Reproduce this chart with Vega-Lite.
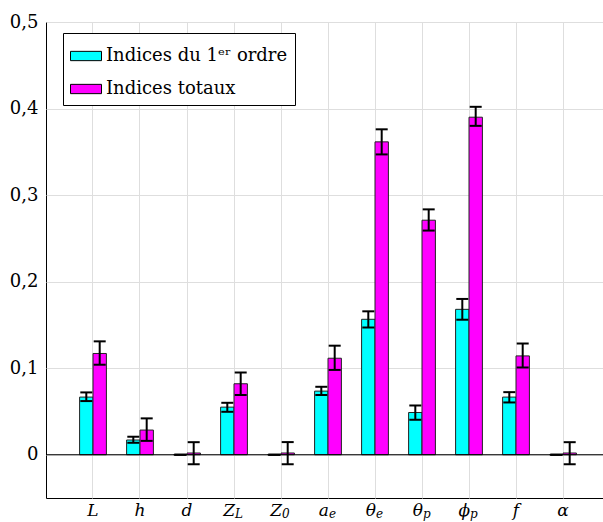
{
  "$schema": "https://vega.github.io/schema/vega-lite/v6.json",
  "autosize": "none",
  "width": 564,
  "height": 476,
  "padding": {"left": 46, "top": 22, "right": 0, "bottom": 24},
  "background": "white",
  "config": {
    "view": {"stroke": "black", "strokeWidth": 1},
    "font": "DejaVu Serif",
    "tick": {"thickness": 2, "bandSize": 12}
  },
  "datasets": {
    "bars": [
      {"p": "L", "type": "Indices du 1ᵉʳ ordre", "value": 0.0666, "lo": 0.062, "hi": 0.072},
      {"p": "L", "type": "Indices totaux", "value": 0.117, "lo": 0.104, "hi": 0.131},
      {"p": "h", "type": "Indices du 1ᵉʳ ordre", "value": 0.017, "lo": 0.0138, "hi": 0.0208},
      {"p": "h", "type": "Indices totaux", "value": 0.0285, "lo": 0.016, "hi": 0.042},
      {"p": "d", "type": "Indices du 1ᵉʳ ordre", "value": 0, "lo": 0, "hi": 0},
      {"p": "d", "type": "Indices totaux", "value": 0.002, "lo": -0.011, "hi": 0.0145},
      {"p": "Z_L", "type": "Indices du 1ᵉʳ ordre", "value": 0.055, "lo": 0.0496, "hi": 0.06},
      {"p": "Z_L", "type": "Indices totaux", "value": 0.082, "lo": 0.069, "hi": 0.095},
      {"p": "Z_0", "type": "Indices du 1ᵉʳ ordre", "value": 0, "lo": 0, "hi": 0},
      {"p": "Z_0", "type": "Indices totaux", "value": 0.002, "lo": -0.011, "hi": 0.0146},
      {"p": "a_e", "type": "Indices du 1ᵉʳ ordre", "value": 0.0735, "lo": 0.069, "hi": 0.0785},
      {"p": "a_e", "type": "Indices totaux", "value": 0.1115, "lo": 0.098, "hi": 0.126},
      {"p": "θ_e", "type": "Indices du 1ᵉʳ ordre", "value": 0.1565, "lo": 0.147, "hi": 0.1657},
      {"p": "θ_e", "type": "Indices totaux", "value": 0.3615, "lo": 0.347, "hi": 0.376},
      {"p": "θ_p", "type": "Indices du 1ᵉʳ ordre", "value": 0.0488, "lo": 0.0404, "hi": 0.0569},
      {"p": "θ_p", "type": "Indices totaux", "value": 0.271, "lo": 0.259, "hi": 0.2835},
      {"p": "ϕ_p", "type": "Indices du 1ᵉʳ ordre", "value": 0.168, "lo": 0.156, "hi": 0.18},
      {"p": "ϕ_p", "type": "Indices totaux", "value": 0.39, "lo": 0.38, "hi": 0.402},
      {"p": "f", "type": "Indices du 1ᵉʳ ordre", "value": 0.0666, "lo": 0.0604, "hi": 0.0723},
      {"p": "f", "type": "Indices totaux", "value": 0.1142, "lo": 0.1008, "hi": 0.1285},
      {"p": "α", "type": "Indices du 1ᵉʳ ordre", "value": 0, "lo": 0, "hi": 0},
      {"p": "α", "type": "Indices totaux", "value": 0.002, "lo": -0.011, "hi": 0.0145}
    ],
    "labels": [
      {"p": "L", "main": "L", "sub": ""},
      {"p": "h", "main": "h", "sub": ""},
      {"p": "d", "main": "d", "sub": ""},
      {"p": "Z_L", "main": "Z", "sub": "L"},
      {"p": "Z_0", "main": "Z", "sub": "0"},
      {"p": "a_e", "main": "a", "sub": "e"},
      {"p": "θ_e", "main": "θ", "sub": "e"},
      {"p": "θ_p", "main": "θ", "sub": "p"},
      {"p": "ϕ_p", "main": "ϕ", "sub": "p"},
      {"p": "f", "main": "f", "sub": ""},
      {"p": "α", "main": "α", "sub": ""}
    ]
  },
  "layer": [
    {
      "data": {"name": "bars"},
      "mark": {"type": "bar", "stroke": "#222222", "strokeWidth": 1},
      "encoding": {
        "x": {
          "field": "p", "type": "nominal",
          "scale": {"domain": ["L", "h", "d", "Z_L", "Z_0", "a_e", "θ_e", "θ_p", "ϕ_p", "f", "α"], "paddingInner": 0.43, "paddingOuter": 0.715},
          "axis": {"title": null, "labels": false, "ticks": false, "domain": false, "grid": true, "gridColor": "#dedede", "gridWidth": 1}
        },
        "xOffset": {"field": "type", "type": "nominal", "scale": {"domain": ["Indices du 1ᵉʳ ordre", "Indices totaux"], "paddingInner": 0, "paddingOuter": 0}},
        "y": {
          "field": "value", "type": "quantitative",
          "scale": {"domain": [-0.05, 0.5], "nice": false, "zero": false},
          "axis": {
            "title": null, "values": [0, 0.1, 0.2, 0.3, 0.4, 0.5], "ticks": false, "domain": false,
            "grid": true, "gridColor": "#dedede", "gridWidth": 1,
            "labelFont": "DejaVu Serif", "labelFontSize": 18, "labelColor": "black", "labelPadding": 8,
            "labelExpr": "datum.value == 0 ? '0' : replace(format(datum.value, '.1f'), '.', ',')"
          }
        },
        "color": {
          "field": "type", "type": "nominal",
          "scale": {"domain": ["Indices du 1ᵉʳ ordre", "Indices totaux"], "range": ["#00FFFF", "#FF00FF"]},
          "legend": {
            "title": null, "orient": "none", "legendX": 17, "legendY": 11,
            "strokeColor": "black", "fillColor": "white", "padding": 7,
            "symbolType": "M-1,-0.3H1V0.3H-1Z", "symbolSize": 961,
            "symbolStrokeColor": "black", "symbolStrokeWidth": 1, "symbolOpacity": 1,
            "labelFont": "DejaVu Serif", "labelFontSize": 18, "labelColor": "black",
            "labelOffset": 4, "rowPadding": 8, "labelLimit": 400
          }
        }
      }
    },
    {
      "data": {"name": "bars"},
      "mark": {"type": "rule", "color": "black", "strokeWidth": 2},
      "encoding": {
        "x": {"field": "p", "type": "nominal"},
        "xOffset": {"field": "type", "type": "nominal"},
        "y": {"field": "lo", "type": "quantitative"},
        "y2": {"field": "hi"}
      }
    },
    {
      "data": {"name": "bars"},
      "mark": {"type": "tick", "color": "black", "thickness": 2, "size": 12, "opacity": 1},
      "encoding": {
        "x": {"field": "p", "type": "nominal"},
        "xOffset": {"field": "type", "type": "nominal"},
        "y": {"field": "lo", "type": "quantitative"}
      }
    },
    {
      "data": {"name": "bars"},
      "mark": {"type": "tick", "color": "black", "thickness": 2, "size": 12, "opacity": 1},
      "encoding": {
        "x": {"field": "p", "type": "nominal"},
        "xOffset": {"field": "type", "type": "nominal"},
        "y": {"field": "hi", "type": "quantitative"}
      }
    },
    {
      "data": {"values": [{}]},
      "mark": {"type": "rule", "color": "black", "strokeWidth": 1},
      "encoding": {"y": {"datum": 0}}
    },
    {
      "data": {"name": "labels"},
      "transform": [{"filter": "datum.sub == ''"}],
      "mark": {"type": "text", "font": "DejaVu Serif", "fontStyle": "italic", "fontSize": 17, "align": "center", "baseline": "alphabetic", "dy": 18, "color": "black"},
      "encoding": {
        "x": {"field": "p", "type": "nominal"},
        "y": {"datum": -0.05},
        "text": {"field": "main"}
      }
    },
    {
      "data": {"name": "labels"},
      "transform": [{"filter": "datum.sub != ''"}],
      "mark": {"type": "text", "font": "DejaVu Serif", "fontStyle": "italic", "fontSize": 17, "align": "right", "baseline": "alphabetic", "dy": 18, "dx": 1, "color": "black"},
      "encoding": {
        "x": {"field": "p", "type": "nominal"},
        "y": {"datum": -0.05},
        "text": {"field": "main"}
      }
    },
    {
      "data": {"name": "labels"},
      "transform": [{"filter": "datum.sub != ''"}],
      "mark": {"type": "text", "font": "DejaVu Serif", "fontStyle": "italic", "fontSize": 12, "align": "left", "baseline": "alphabetic", "dy": 20, "dx": 1, "color": "black"},
      "encoding": {
        "x": {"field": "p", "type": "nominal"},
        "y": {"datum": -0.05},
        "text": {"field": "sub"}
      }
    }
  ]
}
